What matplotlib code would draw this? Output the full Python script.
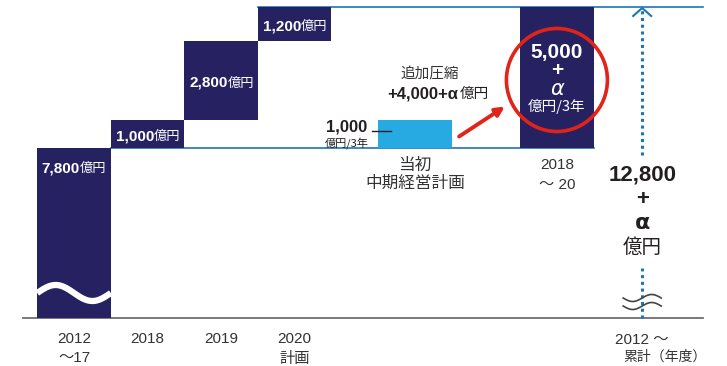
import numpy as np
import matplotlib.pyplot as plt
from matplotlib import transforms, font_manager
from matplotlib.patches import Ellipse, FancyArrowPatch

# data (億円)
base = 7800
steps = [1000, 2800, 1200]
step_labels = ['1,000', '2,800', '1,200']
plan_initial = 1000
plan_new = 5000
total = 12800
tick_top = ['2012', '2018', '2019', '2020']
tick_bottom = ['～17', '', '', '計画']

# fonts
names = {f.name for f in font_manager.fontManager.ttflist}
has_narrow = 'Liberation Sans Narrow' in names
NARROW = ['Liberation Sans Narrow', 'Noto Sans CJK JP'] if has_narrow \
    else ['Liberation Sans', 'Noto Sans CJK JP']
SANS = ['Liberation Sans', 'Noto Sans CJK JP']
JP = ['Noto Sans CJK JP', 'DejaVu Sans']
GREEK = ['DejaVu Sans']
tick_size = 12 if has_narrow else 11
total_size = 18 if has_narrow else 16

navy = '#262262'
sky = '#27a9e1'
line_blue = '#1b75bb'
red = '#e2231a'
txt = '#333333'
dark = '#231f20'

fig = plt.figure(figsize=(7.27, 3.66), dpi=100)
ax = fig.add_axes([0, 0, 1, 1])
ax.set_xlim(-1.007, 8.884)
ax.set_ylim(70, 13048)
ax.axis('off')

K = 35.46          # value units per pixel (vertical)
PX = 1 / 73.5      # x units per pixel
floor = 1772       # broken axis floor

x_steps = np.arange(4)
x_plan = 4.64
x_new = 6.57
x_total = 7.73


def put(x, y, s, dx=0, dy=0, **kw):
    tr = transforms.offset_copy(ax.transData, fig=fig, x=dx, y=-dy, units='dots')
    ax.text(x, y, s, transform=tr, **kw)


# baseline and guide lines
ax.plot([-0.69, 8.56], [floor, floor], color='#6d6e71', lw=1.3, zorder=1)
ax.plot([0.5, x_new + 0.5], [base, base], color=line_blue, lw=1.2, zorder=1)
ax.plot([2.5, 8.56], [total, total], color=line_blue, lw=1.2, zorder=1)

# bars
ax.bar(0, base - floor, bottom=floor, width=1.0, color=navy, zorder=2)
bottoms = base + np.concatenate([[0], np.cumsum(steps)[:-1]])
ax.bar(x_steps[1:], steps, bottom=bottoms, width=1.0, color=navy, zorder=2)
ax.bar(x_plan, plan_initial, bottom=base, width=1.0, color=sky, zorder=2)
ax.bar(x_new, plan_new, bottom=base, width=1.0, color=navy, zorder=2)

# wave break in first bar
t = np.linspace(0, 1, 100)
ax.plot(-0.5 + t, base - 145 * K + 8 * K * np.sin(2 * np.pi * t), color='white',
        lw=4.5, solid_capstyle='butt', zorder=3)

# bar labels
put(0, base, '7,800', dx=6, dy=24, ha='right', va='baseline', color='white',
    fontsize=11, fontweight='bold', family=SANS)
put(0, base, '億円', dx=6, dy=24, ha='left', va='baseline', color='white',
    fontsize=9.5, family=JP)
for x, b, h, s in zip(x_steps[1:], bottoms, steps, step_labels):
    put(x, b + h / 2, s, dx=6.5, dy=6.5, ha='right', va='baseline', color='white',
        fontsize=11, fontweight='bold', family=SANS)
    put(x, b + h / 2, '億円', dx=6.5, dy=6.5, ha='left', va='baseline', color='white',
        fontsize=9.5, family=JP)

# initial plan annotation
top_plan = base + plan_initial
put(x_plan - 0.5, top_plan, '1,000', dx=-11, dy=12, ha='right', va='baseline',
    color=dark, fontsize=12, fontweight='bold', family=SANS)
ax.plot([x_plan - 0.5 - 6 * PX, x_plan - 0.5 + 13 * PX], [base + 17 * K] * 2,
        color=dark, lw=1.0, zorder=4)
put(x_plan - 0.5, base, '億円/3年', dx=-10, dy=-2, ha='right', va='baseline',
    color=dark, fontsize=8, family=JP)
put(x_plan, top_plan, '追加圧縮', dx=15, dy=-46, ha='center', va='center',
    color=txt, fontsize=10.5, family=JP)
put(x_plan, top_plan, '+4,000+α', dx=43, dy=-26, ha='right', va='center',
    color=dark, fontsize=12, fontweight='bold', family=SANS)
put(x_plan, top_plan, '億円', dx=45, dy=-26, ha='left', va='center',
    color=dark, fontsize=10.5, family=JP)
put(x_plan, base, '当初', ha='center', va='center', dy=17, color=txt,
    fontsize=12, family=JP)
put(x_plan, base, '中期経営計画', ha='center', va='center', dy=35, color=txt,
    fontsize=12, family=JP)

# new plan bar labels
top_new = base + plan_new
put(x_new, top_new, '5,000', dy=46, ha='center', va='center', color='white',
    fontsize=15, fontweight='bold', family=SANS)
put(x_new, top_new, '+', dy=64, ha='center', va='center', color='white',
    fontsize=15, fontweight='bold', family=SANS)
put(x_new, top_new, 'α', dy=82, ha='center', va='center', color='white',
    fontsize=15, style='italic', family=GREEK)
put(x_new, top_new, '億円/3年', dy=99, ha='center', va='center', color='white',
    fontsize=10.5, family=JP)
ax.add_patch(Ellipse((x_new, top_new - 73 * K), 101 * PX, 103 * K, fill=False,
                     edgecolor=red, lw=2.6, zorder=5))
ax.add_patch(FancyArrowPatch((x_plan + 0.5 + 5 * PX, base + 10 * K),
                             (x_new - 0.5 - 13 * PX, base + 43 * K),
                             arrowstyle='-|>', mutation_scale=13, color=red,
                             lw=2.8, zorder=5))

# cumulative dotted arrow
ax.plot([x_total, x_total], [floor, floor + 50 * K], color=line_blue, lw=2.2,
        ls=(0, (1, 1.2)), zorder=2)
ax.plot([x_total, x_total], [base - 7 * K, total - 1 * K], color=line_blue, lw=2.2,
        ls=(0, (1, 1.2)), zorder=2)
ax.plot([x_total - 9 * PX, x_total, x_total + 9 * PX],
        [total - 9 * K, total - 1 * K, total - 9 * K], color=line_blue, lw=1.5, zorder=3)
for off in (-4, 4):
    ax.plot(x_total - 19 * PX + 38 * PX * t,
            floor + (16 - off) * K + 3.5 * K * np.sin(2 * np.pi * t + np.pi),
            color='#444444', lw=1.2, zorder=4)
put(x_total, floor, '12,800', dy=-143, ha='center', va='center', color=dark,
    fontsize=total_size, fontweight='bold', family=NARROW)
put(x_total, floor, '+', dy=-119, ha='center', va='center', color=dark,
    fontsize=16, fontweight='bold', family=SANS)
put(x_total, floor, 'α', dy=-95, ha='center', va='center', color=dark,
    fontsize=16, fontweight='bold', family=GREEK)
put(x_total, floor, '億円', dy=-71, ha='center', va='center', color=dark,
    fontsize=14, family=JP)

# x labels
for x, a, b in zip(x_steps, tick_top, tick_bottom):
    put(x, floor, a, dy=21, ha='center', va='center', color=txt, fontsize=tick_size,
        family=NARROW)
    if b:
        put(x, floor, b, dy=40, ha='center', va='center', color=txt, fontsize=tick_size,
            family=NARROW if b[0] != '計' else JP)
put(x_new, base, '2018', dy=17, ha='center', va='center', color=txt, fontsize=tick_size,
    family=NARROW)
put(x_new, base, '～ 20', dy=37, ha='center', va='center', color=txt, fontsize=tick_size,
    family=NARROW)
put(x_total, floor, '2012 ～', dy=22, ha='center', va='center', color=txt,
    fontsize=tick_size, family=NARROW)
put(x_total, floor, '累計（年度）', dx=23, dy=39, ha='center', va='center', color=txt,
    fontsize=10, family=JP)

plt.savefig('out.png', dpi=100)
